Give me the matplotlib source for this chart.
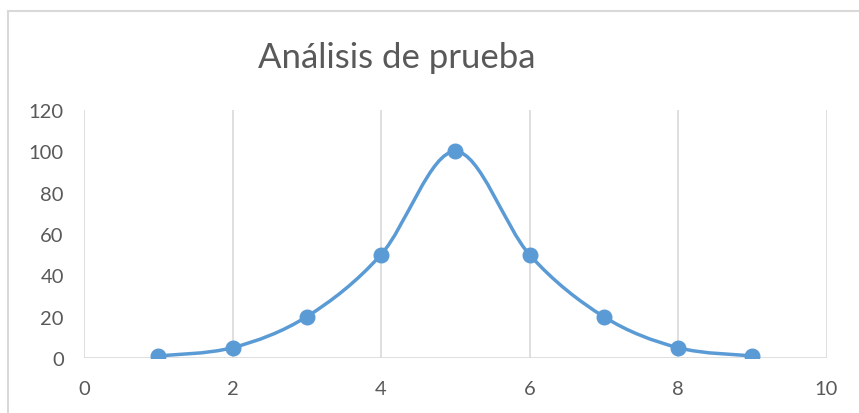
import matplotlib
matplotlib.use("Agg")
import matplotlib.pyplot as plt
from matplotlib.path import Path
from matplotlib.patches import PathPatch, Rectangle
import numpy as np

# Data
x_vals = [1, 2, 3, 4, 5, 6, 7, 8, 9]
y_vals = [1, 5, 20, 50, 100, 50, 20, 5, 1]
x_ticks = [0, 2, 4, 6, 8, 10]
y_ticks = [0, 20, 40, 60, 80, 100, 120]
title = "Análisis de prueba"

W, H = 859, 414
fig = plt.figure(figsize=(W / 100, H / 100), dpi=100)
plt.rcParams['font.family'] = ['Lato', 'DejaVu Sans']

# chart frame (partially out of view)
fig.patches.append(Rectangle((8 / W, -0.1), 1.2, 1 - 12 / H + 0.1, transform=fig.transFigure,
                             fill=False, edgecolor='#D9D9D9', linewidth=1.5))

left, right = 84 / W, 826.5 / W
bottom, top = 1 - 359 / H, 1 - 111 / H
ax = fig.add_axes([left, bottom, right - left, top - bottom])
ax.set_xlim(0, 10)
ax.set_ylim(0, 120)
ax.set_xticks(x_ticks)
ax.set_yticks(y_ticks)
for s in ax.spines.values():
    s.set_visible(False)
ax.grid(axis='x', color='#D9D9D9', linewidth=1.2)
ax.axhline(0, color='#D9D9D9', linewidth=1.2, zorder=1)
ax.tick_params(length=0, labelsize=14.5, labelcolor='#595959')
ax.tick_params(axis='x', pad=16)
ax.tick_params(axis='y', pad=14.5)

# smoothed line (Catmull-Rom style Bezier like Excel)
P = np.column_stack([x_vals, y_vals]).astype(float)
n = len(P)
verts = [tuple(P[0])]
codes = [Path.MOVETO]
for i in range(n - 1):
    p0 = P[i - 1] if i > 0 else P[i]
    p1 = P[i]
    p2 = P[i + 1]
    p3 = P[i + 2] if i + 2 < n else P[i + 1]
    c1 = p1 + (p2 - p0) / 6
    c2 = p2 - (p3 - p1) / 6
    verts += [tuple(c1), tuple(c2), tuple(p2)]
    codes += [Path.CURVE4] * 3
ax.add_patch(PathPatch(Path(verts, codes), fill=False, edgecolor='#5B9BD5', linewidth=2.5,
                       capstyle='round', zorder=3))
ax.plot(x_vals, y_vals, linestyle='none', marker='o', markersize=10.5, color='#5B9BD5', zorder=4)

fig.text(397 / W, 1 - 58 / H, title, ha='center', va='center', fontsize=25, color='#595959')

fig.savefig("out.png", dpi=100)
